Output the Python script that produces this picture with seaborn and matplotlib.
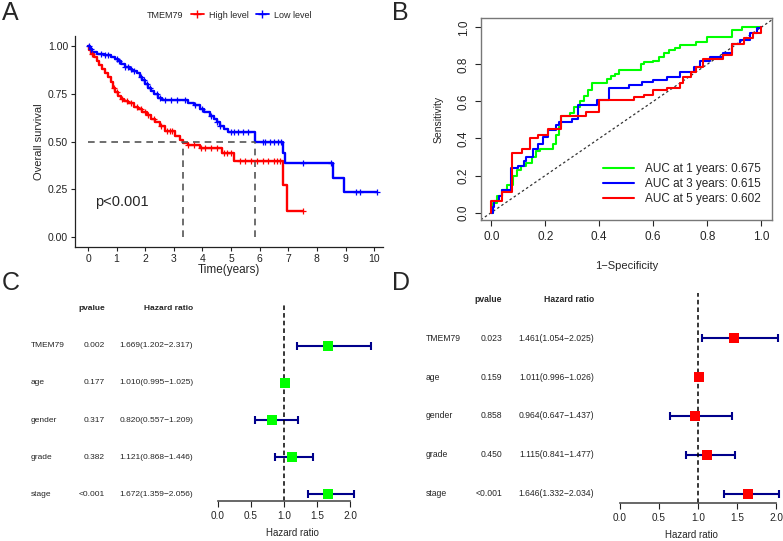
import numpy as np
import pandas as pd
import matplotlib
matplotlib.use("Agg")
import matplotlib.pyplot as plt
import matplotlib.transforms as mtransforms
from matplotlib.lines import Line2D
import seaborn as sns

# ---- panel A: Kaplan-Meier steps ----
high_time = [0, 0.05, 0.12, 0.2, 0.3, 0.4, 0.5, 0.6, 0.7, 0.8, 0.88, 0.95, 1.05, 1.15, 1.25,
             1.4, 1.6, 1.75, 1.9, 2.05, 2.2, 2.35, 2.5, 2.7, 3.05, 3.2, 3.33, 3.5, 3.9, 4.7,
             5.1, 6.8, 6.95, 7.5]
high_surv = [1.0, 0.98, 0.96, 0.94, 0.92, 0.90, 0.88, 0.86, 0.84, 0.81, 0.78, 0.76, 0.74, 0.72,
             0.71, 0.70, 0.68, 0.67, 0.655, 0.64, 0.62, 0.60, 0.58, 0.555, 0.53, 0.51, 0.49,
             0.48, 0.465, 0.44, 0.40, 0.27, 0.135, 0.135]
low_time = [0, 0.08, 0.15, 0.3, 0.55, 0.8, 0.95, 1.05, 1.15, 1.3, 1.45, 1.55, 1.7, 1.8, 1.9,
            2.0, 2.1, 2.2, 2.3, 2.45, 2.6, 3.5, 3.7, 3.9, 4.05, 4.25, 4.4, 4.5, 4.6, 4.75, 4.9,
            5.85, 6.8, 6.9, 8.55, 8.95, 10.1]
low_surv = [1.0, 0.985, 0.97, 0.96, 0.95, 0.94, 0.93, 0.92, 0.905, 0.89, 0.88, 0.87, 0.86,
            0.84, 0.82, 0.80, 0.78, 0.765, 0.75, 0.73, 0.715, 0.70, 0.69, 0.67, 0.655, 0.635,
            0.62, 0.60, 0.58, 0.565, 0.55, 0.50, 0.44, 0.39, 0.31, 0.235, 0.235]
high_cens = [0.15, 0.9, 1.0, 1.2, 1.35, 1.5, 1.7, 1.85, 2.0, 2.1, 2.3, 2.55, 2.75, 2.85, 2.95,
             3.5, 3.7, 3.95, 4.1, 4.3, 4.5, 4.75, 4.85, 5.0, 5.3, 5.5, 5.7, 5.9, 6.1, 6.3, 6.5,
             6.6, 6.7, 7.5]
low_cens = [0.05, 0.1, 0.45, 0.6, 0.7, 1.0, 1.1, 1.3, 1.4, 1.5, 1.6, 1.85, 1.95, 2.05, 2.15,
            2.4, 2.5, 2.7, 2.9, 3.1, 3.4, 3.75, 4.0, 4.3, 4.5, 4.6, 5.0, 5.1, 5.25, 5.4, 5.6,
            6.1, 6.2, 6.35, 6.5, 6.65, 6.75, 7.5, 8.5, 9.35, 9.5, 10.1]
median_high = 3.33
median_low = 5.85

# ---- panel B: time-dependent ROC ----
roc1_fpr = [0, 0.005, 0.02, 0.04, 0.06, 0.08, 0.095, 0.11, 0.13, 0.15, 0.165, 0.18, 0.23, 0.24,
            0.25, 0.26, 0.29, 0.305, 0.33, 0.345, 0.36, 0.375, 0.43, 0.445, 0.46, 0.475, 0.555,
            0.565, 0.6, 0.62, 0.64, 0.66, 0.68, 0.70, 0.76, 0.80, 0.89, 0.93, 1.0]
roc1_tpr = [0.0, 0.05, 0.09, 0.12, 0.15, 0.2, 0.23, 0.25, 0.27, 0.3, 0.33, 0.345, 0.37, 0.42,
            0.46, 0.52, 0.54, 0.57, 0.6, 0.63, 0.66, 0.70, 0.72, 0.735, 0.75, 0.77, 0.80, 0.81,
            0.82, 0.84, 0.86, 0.875, 0.89, 0.905, 0.92, 0.95, 0.985, 1.0, 1.0]
roc3_fpr = [0, 0.005, 0.01, 0.03, 0.04, 0.073, 0.1, 0.12, 0.13, 0.155, 0.175, 0.19, 0.21, 0.24,
            0.25, 0.3, 0.32, 0.39, 0.435, 0.51, 0.56, 0.60, 0.65, 0.70, 0.75, 0.775, 0.81, 0.86,
            0.89, 0.92, 0.96, 0.985, 1.0]
roc3_tpr = [0.0, 0.03, 0.065, 0.09, 0.12, 0.24, 0.25, 0.28, 0.3, 0.345, 0.37, 0.41, 0.445, 0.47,
            0.49, 0.505, 0.58, 0.605, 0.67, 0.69, 0.706, 0.715, 0.733, 0.76, 0.787, 0.82, 0.84,
            0.86, 0.91, 0.93, 0.97, 0.995, 1.0]
roc5_fpr = [0, 0.0, 0.04, 0.077, 0.115, 0.145, 0.175, 0.21, 0.26, 0.35, 0.40, 0.53, 0.565, 0.60,
            0.65, 0.70, 0.71, 0.74, 0.76, 0.785, 0.86, 0.89, 0.935, 0.97, 1.0]
roc5_tpr = [0, 0.065, 0.11, 0.32, 0.345, 0.40, 0.42, 0.45, 0.52, 0.545, 0.607, 0.625, 0.634,
            0.66, 0.67, 0.70, 0.733, 0.76, 0.787, 0.83, 0.85, 0.91, 0.94, 0.97, 1.0]
auc_labels = ["AUC at 1 years: 0.675", "AUC at 3 years: 0.615", "AUC at 5 years: 0.602"]

# ---- panels C / D: Cox regression ----
variables = ["TMEM79", "age", "gender", "grade", "stage"]
uni_p = ["0.002", "0.177", "0.317", "0.382", "<0.001"]
uni_hr = [1.669, 1.010, 0.820, 1.121, 1.672]
uni_lo = [1.202, 0.995, 0.557, 0.868, 1.359]
uni_hi = [2.317, 1.025, 1.209, 1.446, 2.056]
multi_p = ["0.023", "0.159", "0.858", "0.450", "<0.001"]
multi_hr = [1.461, 1.011, 0.964, 1.115, 1.646]
multi_lo = [1.054, 0.996, 0.647, 0.841, 1.332]
multi_hi = [2.025, 1.026, 1.437, 1.477, 2.034]

sns.set_theme(style="white")
plt.rcParams["font.family"] = ["Liberation Sans", "DejaVu Sans"]

W, H = 783, 541
fig = plt.figure(figsize=(W / 100, H / 100), dpi=100)


def box(left, top, right, bottom):
    return [left / W, 1 - bottom / H, (right - left) / W, (bottom - top) / H]


# ================= A =================
axA = fig.add_axes(box(75, 36, 383, 247))
for t, s, col in [(high_time, high_surv, "#FF0000"), (low_time, low_surv, "#0000FF")]:
    sns.lineplot(x=t, y=s, drawstyle="steps-post", estimator=None, sort=False,
                 color=col, lw=1.7, ax=axA)
for t, s, c, col in [(high_time, high_surv, high_cens, "#FF0000"),
                     (low_time, low_surv, low_cens, "#0000FF")]:
    idx = np.searchsorted(t, c, side="right") - 1
    sns.scatterplot(x=c, y=np.array(s)[idx], marker="+", s=20, color=col,
                    linewidth=0.9, ax=axA, zorder=3)
axA.hlines(0.5, 0, median_low, colors="#555555", linestyles=(0, (4, 3)), lw=1.2)
axA.vlines([median_high, median_low], 0, 0.5, colors="#555555", linestyles=(0, (4, 3)), lw=1.2)
axA.text(0.25, 0.185, "p<0.001", fontsize=10.5, va="center", ha="left")
axA.set_xlim(-0.455, 10.31)
axA.set_ylim(-0.052, 1.052)
axA.set_xticks(range(0, 11))
axA.set_yticks([0, 0.25, 0.5, 0.75, 1.0])
axA.set_yticklabels(["0.00", "0.25", "0.50", "0.75", "1.00"])
axA.tick_params(axis="both", labelsize=7.5, length=3, width=0.8, direction="out",
                bottom=True, left=True, pad=2, colors="#222222")
for sp in ["top", "right"]:
    axA.spines[sp].set_visible(False)
for sp in ["left", "bottom"]:
    axA.spines[sp].set_color("#222222")
    axA.spines[sp].set_linewidth(0.9)
axA.set_xlabel("Time(years)", fontsize=8.5, labelpad=0)
axA.set_ylabel("Overall survival", fontsize=8, labelpad=3)
fig.text(147 / W, 1 - 15 / H, "TMEM79", fontsize=6.5, va="center", ha="left")
handles = [Line2D([], [], color="#FF0000", marker="+", lw=1.3, ms=6),
           Line2D([], [], color="#0000FF", marker="+", lw=1.3, ms=6)]
fig.legend(handles, ["High level", "Low level"], loc="center left",
           bbox_to_anchor=(186 / W, 1 - 15 / H), ncol=2, frameon=False, fontsize=6.5,
           handlelength=1.5, handletextpad=0.5, columnspacing=0.8, borderpad=0)

# ================= B =================
axB = fig.add_axes(box(481, 18, 772, 220))
axB.plot([-0.1, 1.1], [-0.1, 1.1], ls=(0, (2, 2)), color="#333333", lw=0.9)
for f, tp, col in [(roc1_fpr, roc1_tpr, "#00FF00"), (roc3_fpr, roc3_tpr, "#0000FF"),
                   (roc5_fpr, roc5_tpr, "#FF0000")]:
    sns.lineplot(x=f, y=tp, drawstyle="steps-post", estimator=None, sort=False,
                 color=col, lw=1.5, ax=axB)
axB.set_xlim(-0.038, 1.04)
axB.set_ylim(-0.04, 1.05)
axB.set_xticks(np.arange(0, 1.01, 0.2))
axB.set_yticks(np.arange(0, 1.01, 0.2))
axB.set_xticklabels([f"{v:.1f}" for v in np.arange(0, 1.01, 0.2)])
axB.set_yticklabels([f"{v:.1f}" for v in np.arange(0, 1.01, 0.2)], rotation=90, va="center")
axB.tick_params(axis="both", labelsize=8.5, length=4, width=0.8, direction="out",
                bottom=True, left=True, pad=4)
for sp in axB.spines.values():
    sp.set_color("#777777")
    sp.set_linewidth(1.0)
axB.set_xlabel("1\u2212Specificity", fontsize=8, labelpad=13)
axB.set_ylabel("Sensitivity", fontsize=7.5, labelpad=10)
lh = [Line2D([], [], color=c, lw=1.5) for c in ["#00FF00", "#0000FF", "#FF0000"]]
axB.legend(lh, auc_labels, loc="lower right", frameon=False, fontsize=8.5,
           handlelength=2.6, handletextpad=1.0, labelspacing=0.25,
           bbox_to_anchor=(1.0, 0.02))


# ================= C / D =================
def forest(ax, hr, lo, hi, pvals, col, px_name, px_p, px_hr, head_y, dash_top, fs):
    ypos = np.arange(len(variables), 0, -1)
    ax.errorbar(hr, ypos, xerr=[np.array(hr) - np.array(lo), np.array(hi) - np.array(hr)],
                fmt="none", ecolor="#00008B", elinewidth=1.5, capsize=3, capthick=1.5)
    sns.scatterplot(x=hr, y=ypos, marker="s", s=55, color=col, edgecolor=col,
                    linewidth=0, ax=ax, zorder=3)
    ax.vlines(1, ax.get_ylim()[0], dash_top, colors="black", linestyles=(0, (3, 2)), lw=1.1)
    ax.set_xticks([0, 0.5, 1.0, 1.5, 2.0])
    ax.set_xticklabels(["0.0", "0.5", "1.0", "1.5", "2.0"])
    ax.set_yticks([])
    for sp in ["top", "right", "left"]:
        ax.spines[sp].set_visible(False)
    ax.spines["bottom"].set_bounds(0, 2)
    ax.spines["bottom"].set_color("#555555")
    ax.tick_params(axis="x", labelsize=7.2, length=4, width=0.8, direction="out",
                   bottom=True, pad=3, colors="#222222")
    ax.set_xlabel("Hazard ratio", fontsize=7, labelpad=5)
    tr = mtransforms.blended_transform_factory(fig.transFigure, ax.transData)
    ax.text(px_p / W, head_y, "pvalue", transform=tr, ha="right", va="center",
            fontsize=fs, fontweight="bold")
    ax.text(px_hr / W, head_y, "Hazard ratio", transform=tr, ha="right", va="center",
            fontsize=fs, fontweight="bold")
    for y, name, p, h, l, u in zip(ypos, variables, pvals, hr, lo, hi):
        ax.text(px_name / W, y, name, transform=tr, ha="left", va="center", fontsize=fs)
        ax.text(px_p / W, y, p, transform=tr, ha="right", va="center", fontsize=fs)
        ax.text(px_hr / W, y, f"{h:.3f}({l:.3f}\u2212{u:.3f})", transform=tr,
                ha="right", va="center", fontsize=fs)


axC = fig.add_axes(box(200, 300, 385, 501))
axC.set_xlim(-0.273, 2.53)
axC.set_ylim(0.811, 6.243)
forest(axC, uni_hr, uni_lo, uni_hi, uni_p, "#00FF00", 31, 105, 193, 1 + (494 - 309) / 37,
       1 + (494 - 304) / 37, 6.0)

axD = fig.add_axes(box(600, 290, 782, 503))
axD.set_xlim(-0.256, 2.077)
axD.set_ylim(0.769, 6.231)
forest(axD, multi_hr, multi_lo, multi_hi, multi_p, "#FF0000", 426, 502, 594,
       1 + (494 - 299) / 39, 1 + (494 - 293) / 39, 6.2)

# panel letters
for lab, x, y in [("A", 2, 1), ("B", 392, 1), ("C", 2, 271), ("D", 392, 271)]:
    fig.text(x / W, 1 - y / H, lab, fontsize=18, ha="left", va="top")

fig.savefig("out.png", dpi=100)
